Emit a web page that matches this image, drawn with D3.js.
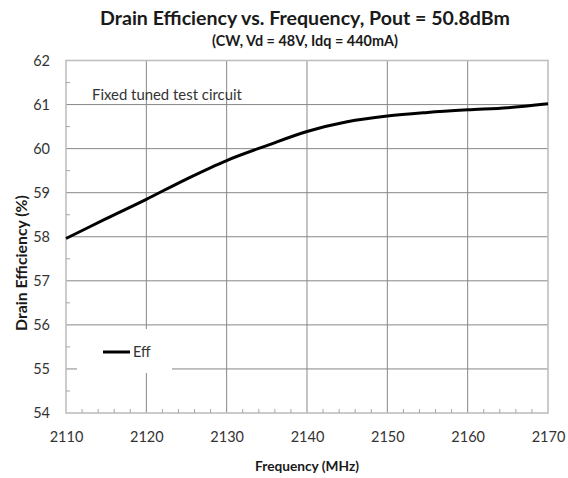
<!DOCTYPE html>
<html><head><meta charset="utf-8">
<script src="https://cdn.jsdelivr.net/npm/d3@7"></script>
<style>body{margin:0;background:#fff}svg{display:block}</style>
</head><body>
<svg id="c" width="568" height="478"></svg>
<script>
const freq = [2110,2115,2120,2125,2130,2135,2140,2145,2150,2155,2160,2165,2170];
const eff = [57.96,58.41,58.85,59.31,59.73,60.07,60.39,60.61,60.74,60.82,60.88,60.93,61.02];
const xTicks = [2110,2120,2130,2140,2150,2160,2170];
const yTicks = [54,55,56,57,58,59,60,61,62];
const title = "Drain Efficiency vs. Frequency, Pout = 50.8dBm";
const subtitle = "(CW, Vd = 48V, Idq = 440mA)";
const xLabel = "Frequency (MHz)";
const yLabel = "Drain Efficiency (%)";
const note = "Fixed tuned test circuit";
const seriesName = "Eff";

const FONT = "Lato, 'Open Sans', sans-serif";
const svg = d3.select("#c");
const L = 66, R = 548, T = 60.5, B = 413;
const x = d3.scaleLinear().domain([2110,2170]).range([L,R]);
const y = d3.scaleLinear().domain([54,62]).range([B,T]);

const g = svg.append("g");
g.selectAll(".gx").data(xTicks.slice(1,-1)).enter().append("line")
  .attr("x1",d=>x(d)).attr("x2",d=>x(d)).attr("y1",T).attr("y2",B)
  .attr("stroke","#878787").attr("stroke-width",1);
g.selectAll(".gy").data(yTicks.slice(1,-1)).enter().append("line")
  .attr("x1",L).attr("x2",R).attr("y1",d=>y(d)).attr("y2",d=>y(d))
  .attr("stroke","#878787").attr("stroke-width",1);
g.append("rect").attr("x",L).attr("y",T).attr("width",R-L).attr("height",B-T)
  .attr("fill","none").attr("stroke","#bfbfbf").attr("stroke-width",1.6);

const yMinor = d3.range(54.5,62,1);
g.selectAll(".my").data(yMinor).enter().append("line")
  .attr("x1",L).attr("x2",L+4).attr("y1",d=>y(d)).attr("y2",d=>y(d))
  .attr("stroke","#a6a6a6");
const xMinor = d3.range(2112,2170,2).filter(d=>d%10!==0);
g.selectAll(".mx").data(xMinor).enter().append("line")
  .attr("x1",d=>x(d)).attr("x2",d=>x(d)).attr("y1",B).attr("y2",B-4)
  .attr("stroke","#a6a6a6");

const ax = svg.append("g").attr("transform",`translate(0,${B})`)
  .call(d3.axisBottom(x).tickValues(xTicks).tickSize(0).tickPadding(19).tickFormat(d3.format("d")));
const ay = svg.append("g").attr("transform",`translate(${L},0)`)
  .call(d3.axisLeft(y).tickValues(yTicks).tickSize(0).tickPadding(16).tickFormat(d3.format("d")));
[ax,ay].forEach(a=>{
  a.select(".domain").remove();
  a.selectAll("text").attr("font-family",FONT).attr("font-size",14.5).attr("fill","#333");
});

svg.append("rect").attr("x",77).attr("y",329).attr("width",95).attr("height",44).attr("fill","#fff");
svg.append("line").attr("x1",103).attr("x2",130).attr("y1",352).attr("y2",352)
  .attr("stroke","#000").attr("stroke-width",3);
svg.append("text").attr("x",133).attr("y",357).text(seriesName)
  .attr("font-family",FONT).attr("font-size",14.5).attr("fill","#333");

svg.append("path").datum(freq.map((f,i)=>[f,eff[i]]))
  .attr("d",d3.line().x(d=>x(d[0])).y(d=>y(d[1])).curve(d3.curveCatmullRom.alpha(0.5)))
  .attr("fill","none").attr("stroke","#000").attr("stroke-width",3).attr("stroke-linejoin","round");

function fitText(sel, w){ const n = sel.node(); const l = n.getComputedTextLength(); const fs = +sel.attr("font-size"); sel.attr("font-size", fs*w/l); }
const tn = svg.append("text").attr("x",92).attr("y",100).text(note)
  .attr("font-family",FONT).attr("font-size",14).attr("fill","#333");
fitText(tn,150);

const t1 = svg.append("text").attr("x",305).attr("y",25).attr("text-anchor","middle").text(title)
  .attr("font-family",FONT).attr("font-weight","bold").attr("font-size",18).attr("fill","#1a1a1a");
fitText(t1,410);
const t2 = svg.append("text").attr("x",305).attr("y",46).attr("text-anchor","middle").text(subtitle)
  .attr("font-family",FONT).attr("font-weight","bold").attr("font-size",12).attr("fill","#1a1a1a");
fitText(t2,186);
const t3 = svg.append("text").attr("x",307).attr("y",471).attr("text-anchor","middle").text(xLabel)
  .attr("font-family",FONT).attr("font-weight","bold").attr("font-size",13).attr("fill","#1a1a1a");
fitText(t3,104);
const t4 = svg.append("text").attr("transform","translate(27,263) rotate(-90)").attr("text-anchor","middle").text(yLabel)
  .attr("font-family",FONT).attr("font-weight","bold").attr("font-size",13).attr("fill","#1a1a1a");
fitText(t4,136);
</script>
</body></html>
